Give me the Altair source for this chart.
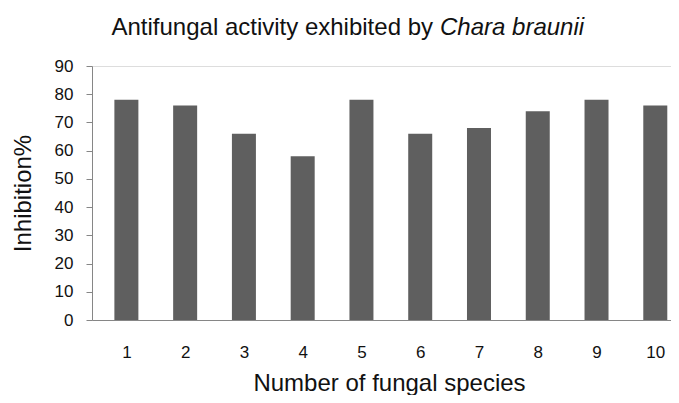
import altair as alt
import pandas as pd

species = [1, 2, 3, 4, 5, 6, 7, 8, 9, 10]
inhibition = [78, 76, 66, 58, 78, 66, 68, 74, 78, 76]
y_ticks = [0, 10, 20, 30, 40, 50, 60, 70, 80, 90]

df = pd.DataFrame({"species": species, "inhibition": inhibition})

FONT = "Liberation Sans"
W, H = 579, 254
BAND = 59.8

bars = alt.Chart(df).mark_bar(size=24, color="#5f5f5f").encode(
    x=alt.X(
        "species:Q",
        scale=alt.Scale(domain=[0.5, 0.5 + W / BAND], nice=False, zero=False),
        axis=alt.Axis(
            values=species,
            title="Number of fungal species",
            ticks=False,
            grid=False,
            domainColor="#868686",
            labelFontSize=17,
            labelFont=FONT,
            labelColor="#111111",
            labelPadding=24,
            labelBaseline="top",
            titleFont=FONT,
            titleFontSize=24,
            titleFontWeight="normal",
            titleColor="#111111",
            titleX=297,
            titleY=75,
            titleBaseline="bottom",
            titleAnchor="start",
            titleAlign="center",
        ),
    ),
    y=alt.Y(
        "inhibition:Q",
        scale=alt.Scale(domain=[0, 90], nice=False),
        axis=alt.Axis(
            values=y_ticks,
            title="Inhibition%",
            grid=False,
            tickSize=6,
            tickColor="#868686",
            domainColor="#868686",
            labelFontSize=17,
            labelFont=FONT,
            labelColor="#111111",
            labelPadding=13,
            titleFont=FONT,
            titleFontSize=24,
            titleFontWeight="normal",
            titleColor="#111111",
            titleAngle=-90,
            titleX=-69,
            titleY=H / 2,
            titleBaseline="middle",
            titleAlign="center",
            titleAnchor="start",
        ),
    ),
)

title_df = pd.DataFrame({"a": ["Antifungal activity exhibited by"], "b": ["Chara braunii"]})

title_plain = alt.Chart(title_df).mark_text(
    align="right", baseline="alphabetic", font=FONT, fontSize=24, color="#111111"
).encode(x=alt.value(341), y=alt.value(-31), text="a:N")

title_italic = alt.Chart(title_df).mark_text(
    align="left", baseline="alphabetic", font=FONT, fontSize=24, fontStyle="italic", color="#111111"
).encode(x=alt.value(348), y=alt.value(-31), text="b:N")

chart = alt.layer(bars, title_plain, title_italic).properties(
    width=W,
    height=H,
    autosize=alt.AutoSizeParams(type="none"),
    padding={"left": 84, "top": 58, "right": 0, "bottom": 75},
).configure_view(stroke=None).configure(background="white")

chart.save("out.html", embed_options={"renderer": "svg", "actions": False})
